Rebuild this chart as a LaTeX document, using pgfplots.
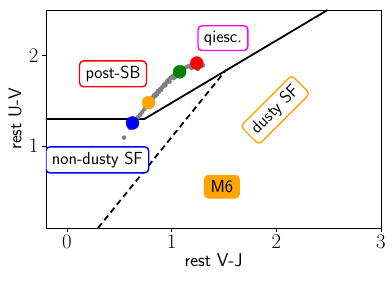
\documentclass[border=0pt]{standalone}
\usepackage{fontspec}
\usepackage{pgfplots}
\pgfplotsset{compat=1.18}
\definecolor{mplorange}{HTML}{FFA500}
\definecolor{mplgreen}{HTML}{008000}
\definecolor{mplgray}{HTML}{808080}
\definecolor{mplmagenta}{HTML}{FF00FF}
\tikzset{lab/.style={line width=1.4pt, rounded corners=4pt, fill=white, inner xsep=6pt, inner ysep=5pt, font=\sffamily\fontsize{17.5}{20}\selectfont}}
\begin{document}
\begin{tikzpicture}
\begin{axis}[name=ax, scale only axis, width=335pt, height=218pt,
  xmin=-0.2, xmax=3, ymin=0.1, ymax=2.5,
  xtick={0,1,2,3}, ytick={1,2},
  tick align=outside, tick pos=left, major tick length=4pt,
  every tick/.style={black, line width=0.8pt},
  axis line style={line width=0.8pt},
  ticklabel style={font=\fontsize{20}{24}\selectfont},
  xlabel={rest V-J}, ylabel={rest U-V},
  label style={font=\sffamily\fontsize{18.5}{22}\selectfont},
  xlabel style={at={(axis description cs:0.5,-0.147)}, anchor=center},
  ylabel style={at={(axis description cs:-0.0925,0.5)}, anchor=center},
]
\addplot[black, line width=1.8pt] coordinates {(-0.2,1.3) (0.74,1.3) (2.49,2.5)};
\addplot[black, line width=1.8pt, dash pattern=on 6pt off 4pt] coordinates {(0.297,0.1) (1.52,1.84)};
\addplot[only marks, mark=*, mark size=2pt, mplgray, mark options={draw=mplgray, fill=mplgray}] coordinates {
(0.546,1.095) (0.60,1.20) (0.62,1.23) (0.65,1.28) (0.68,1.32) (0.70,1.35) (0.72,1.38) (0.74,1.41) (0.76,1.45)
(0.79,1.50) (0.81,1.53) (0.83,1.56) (0.85,1.58) (0.87,1.61) (0.89,1.63) (0.91,1.65) (0.93,1.68) (0.95,1.70)
(0.97,1.73) (0.99,1.75) (1.01,1.77) (1.03,1.79) (1.05,1.80) (1.10,1.84) (1.12,1.86) (1.14,1.87) (1.16,1.88)
(1.18,1.88) (1.20,1.89) (1.22,1.90) (1.25,1.85) (1.28,1.90) (1.30,1.89)
(0.84,1.55) (0.88,1.60) (0.92,1.66) (0.96,1.72) (1.00,1.76) (1.04,1.77) (1.19,1.86)
(0.86,1.57) (0.90,1.62) (0.94,1.67) (0.98,1.71) (1.02,1.75) (0.82,1.52)
};
\addplot[only marks, mark=*, mark size=6.5pt, blue] coordinates {(0.626,1.256)};
\addplot[only marks, mark=*, mark size=6.5pt, mplorange] coordinates {(0.78,1.48)};
\addplot[only marks, mark=*, mark size=6.5pt, mplgreen] coordinates {(1.077,1.82)};
\addplot[only marks, mark=*, mark size=6.5pt, red] coordinates {(1.24,1.915)};
\node[lab, draw=red] at (axis cs:0.44,1.797) {post-SB};
\node[lab, draw=mplmagenta] at (axis cs:1.49,2.19) {qiesc.};
\node[lab, draw=mplorange, rotate=45] at (axis cs:1.99,1.40) {dusty SF};
\node[lab, draw=blue] at (axis cs:0.29,0.85) {non-dusty SF};
\node[lab, draw=mplorange, fill=mplorange] at (axis cs:1.48,0.555) {M6};
\end{axis}
\pgfresetboundingbox
\path (ax.south west) ++(-46pt,-55pt) rectangle ++(392pt,283pt);
\end{tikzpicture}
\end{document}
